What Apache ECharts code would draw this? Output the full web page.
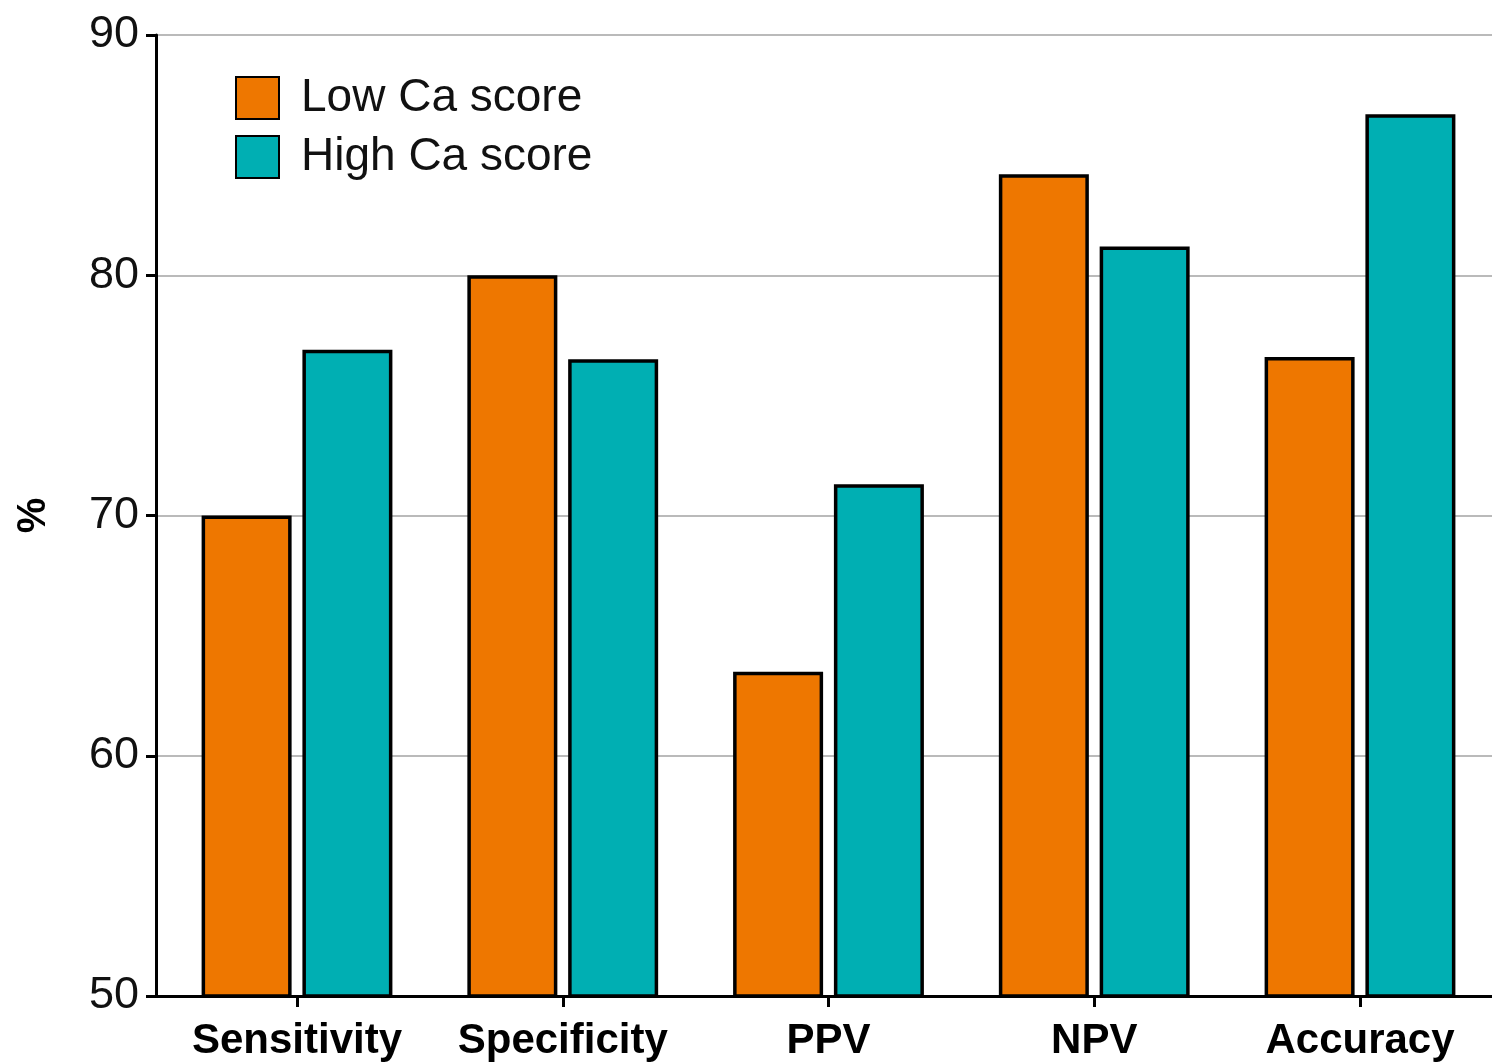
<!DOCTYPE html>
<html>
<head>
<meta charset="utf-8">
<style>
  html, body { margin: 0; padding: 0; background: #fff; }
  #chart { width: 1492px; height: 1064px; }
</style>
<script src="https://cdn.jsdelivr.net/npm/echarts@6/dist/echarts.min.js"></script>
</head>
<body>
<div id="chart"></div>
<script>
// Diagnostic performance by calcium-score group (%)
const categories = ['Sensitivity', 'Specificity', 'PPV', 'NPV', 'Accuracy'];
const lowCaScore = [70.0, 80.0, 63.5, 84.2, 76.6];
const highCaScore = [76.9, 76.5, 71.3, 81.2, 86.7];
const seriesNames = ['Low Ca score', 'High Ca score'];
const yTicks = [50, 60, 70, 80, 90];

const FONT = '"Liberation Sans", Arial, Helvetica, sans-serif';
const ORANGE = '#EE7700';
const TEAL = '#00AFB3';

// Category positions on a numeric x axis so the axis line can start at the y axis
const xPositions = categories.map((_, i) => i);
const toPoints = vals => vals.map((v, i) => [xPositions[i], v]);

const chart = echarts.init(document.getElementById('chart'), null, { renderer: 'canvas' });

chart.setOption({
  backgroundColor: '#ffffff',
  animation: false,
  grid: { left: 156, top: 35, width: 1336, height: 961, containLabel: false },
  legend: {
    orient: 'vertical',
    left: 235,
    top: 75,
    padding: 0,
    itemWidth: 43,
    itemHeight: 42,
    itemGap: 13,
    icon: 'rect',
    data: seriesNames,
    formatter: name => '{t|' + name + '}',
    textStyle: {
      rich: {
        t: { fontFamily: FONT, fontSize: 46, color: '#111', lineHeight: 42, padding: [0, 0, 0, 17] }
      }
    }
  },
  xAxis: {
    type: 'value',
    min: -0.5306,
    max: 4.4967,
    axisLine: { show: true, onZero: false, lineStyle: { color: '#000', width: 3 } },
    axisTick: { show: true, length: 11, lineStyle: { color: '#000', width: 3 }, customValues: xPositions },
    axisLabel: {
      customValues: xPositions,
      formatter: v => categories[Math.round(v)] || '',
      fontFamily: FONT, fontSize: 42, fontWeight: 'bold', color: '#000', margin: 24
    },
    splitLine: { show: false }
  },
  yAxis: {
    type: 'value',
    min: yTicks[0],
    max: yTicks[yTicks.length - 1],
    interval: 10,
    name: '%',
    nameLocation: 'middle',
    nameRotate: 90,
    nameGap: 102,
    nameTextStyle: { fontFamily: FONT, fontSize: 40, fontWeight: 'bold', color: '#000' },
    axisLine: { show: true, onZero: false, lineStyle: { color: '#000', width: 3 } },
    axisTick: { show: true, length: 10, lineStyle: { color: '#000', width: 3 } },
    axisLabel: { fontFamily: FONT, fontSize: 45, color: '#111', margin: 17 },
    splitLine: { show: true, lineStyle: { color: '#a3a3a3', width: 1.5 } }
  },
  series: [
    {
      name: seriesNames[0],
      type: 'bar',
      data: toPoints(lowCaScore),
      barWidth: 90,
      barGap: '12%',
      itemStyle: { color: ORANGE, borderColor: '#000', borderWidth: 3.5 }
    },
    {
      name: seriesNames[1],
      type: 'bar',
      data: toPoints(highCaScore),
      barWidth: 90,
      barGap: '12%',
      itemStyle: { color: TEAL, borderColor: '#000', borderWidth: 3.5 }
    }
  ]
});
</script>
</body>
</html>
